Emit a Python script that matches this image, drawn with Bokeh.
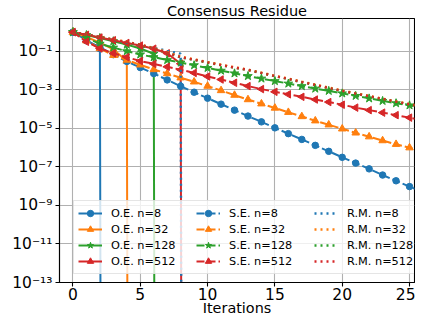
import numpy as np
from bokeh.plotting import figure
from bokeh.models import Range1d, FixedTicker, Legend, LegendItem
from bokeh.embed import file_html
from bokeh.resources import INLINE

# ---------------- data ----------------
iterations = list(range(27))

# O.E. : residue hits exact zero (0.0) after log2(n) steps
oe_n8 = [1.0, 0.398, 0.138, 0.0]
oe_n32 = [1.0, 0.562, 0.282, 0.126, 0.0316, 0.0]
oe_n128 = [1.0, 0.708, 0.501, 0.339, 0.224, 0.141, 0.0759, 0.0]
oe_n512 = [1.0, 0.724, 0.525, 0.380, 0.275, 0.200, 0.138, 0.0794, 0.0229, 0.0]

se_n8 = [1.0, 0.355, 0.166, 0.0676, 0.0302, 0.01445, 0.00708, 0.00331, 0.00155,
         7.59e-4, 3.72e-4, 1.82e-4, 8.91e-5, 4.37e-5, 2.19e-5, 1.07e-5, 5.37e-6,
         2.69e-6, 1.32e-6, 6.46e-7, 3.16e-7, 1.58e-7, 7.94e-8, 3.80e-8, 1.91e-8,
         9.55e-9, 4.90e-9]
se_n32 = [1.0, 0.355, 0.141, 0.0631, 0.0355, 0.0200, 0.0115, 0.00708, 0.00427,
          0.00263, 0.00158, 9.33e-4, 5.37e-4, 3.16e-4, 1.91e-4, 1.15e-4, 6.92e-5,
          4.17e-5, 2.51e-5, 1.55e-5, 9.55e-6, 5.89e-6, 3.72e-6, 2.34e-6, 1.51e-6,
          1.00e-6, 6.61e-7]
se_n128 = [1.0, 0.501, 0.251, 0.158, 0.102, 0.0692, 0.0501, 0.0355, 0.0263,
           0.0191, 0.0138, 0.0100, 0.00724, 0.00525, 0.00389, 0.00288, 0.00214,
           0.00158, 0.00117, 8.91e-4, 6.61e-4, 4.90e-4, 3.63e-4, 2.69e-4, 2.04e-4,
           1.58e-4, 1.23e-4]
se_n512 = [1.0, 0.316, 0.141, 0.0794, 0.0501, 0.0316, 0.0224, 0.0158, 0.0112,
           0.00759, 0.00501, 0.00347, 0.00234, 0.00158, 0.00110, 7.94e-4, 5.89e-4,
           4.37e-4, 3.16e-4, 2.34e-4, 1.70e-4, 1.20e-4, 8.91e-5, 6.61e-5, 4.90e-5,
           3.63e-5, 2.69e-5]

rm_n8 = [1.0, 0.759, 0.562, 0.398, 0.282, 0.209, 0.151, 0.107, 0.0759, 0.0]
rm_n32 = [1.0, 0.75, 0.56, 0.42, 0.31, 0.225, 0.15, 0.092, 0.054, 0.039, 0.028,
          0.0205, 0.015, 0.0113, 0.0079, 0.0054, 0.0039, 0.0027, 0.0019, 0.00132,
          9.3e-4, 6.7e-4, 4.9e-4, 3.5e-4, 2.55e-4, 1.85e-4, 1.36e-4]
rm_n128 = [1.0, 0.74, 0.545, 0.40, 0.295, 0.215, 0.14, 0.083, 0.049, 0.036, 0.026,
           0.019, 0.0141, 0.0107, 0.0074, 0.0051, 0.0036, 0.0025, 0.00177, 0.00123,
           8.7e-4, 6.3e-4, 4.6e-4, 3.3e-4, 2.4e-4, 1.74e-4, 1.29e-4]
rm_n512 = [1.0, 0.741, 0.550, 0.407, 0.302, 0.219, 0.141, 0.0851, 0.0501, 0.0372,
           0.0269, 0.0195, 0.0145, 0.0110, 0.00759, 0.00525, 0.00372, 0.00257,
           0.00182, 0.00126, 8.91e-4, 6.46e-4, 4.68e-4, 3.39e-4, 2.45e-4, 1.78e-4,
           1.32e-4]

sizes = ["n=8", "n=32", "n=128", "n=512"]
x_ticks = [0, 5, 10, 15, 20, 25]
y_ticks = [1e-13, 1e-11, 1e-9, 1e-7, 1e-5, 1e-3, 1e-1]
y_tick_labels = ["10\u207b\u00b9\u00b3", "10\u207b\u00b9\u00b9", "10\u207b\u2079",
                 "10\u207b\u2077", "10\u207b\u2075", "10\u207b\u00b3", "10\u207b\u00b9"]

# ---------------- styling ----------------
colors = ["#1f77b4", "#ff7f0e", "#2ca02c", "#d62728"]
markers = ["circle", "triangle", "star", "triangle"]
angles = [0.0, 0.0, 0.0, np.pi / 2]
msizes = [6.5, 7.5, 9, 7.5]
FONT = "DejaVu Sans"
FLOOR = 1e-300  # log axis: exact zero is drawn clipped far below the axis (as matplotlib does)


def clip(vals):
    return [v if v > 0 else FLOOR for v in vals]


p = figure(width=415, height=318, output_backend="svg", toolbar_location=None,
           y_axis_type="log", x_range=Range1d(-1, 25.37), y_range=Range1d(1e-13, 5.1),
           min_border_left=59, min_border_right=1, min_border_top=18, min_border_bottom=35)

p.title.text = "Consensus Residue"
p.title.align = "center"
p.title.text_font = FONT
p.title.text_font_size = "14.5px"
p.title.text_font_style = "normal"
p.title.text_color = "black"
p.title.standoff = 0

p.outline_line_color = "black"
p.outline_line_width = 1.1
p.background_fill_color = "white"
p.border_fill_color = "white"

p.xaxis.ticker = FixedTicker(ticks=x_ticks, minor_ticks=[])
p.yaxis.ticker = FixedTicker(ticks=y_ticks, minor_ticks=[])
p.yaxis.major_label_overrides = {t: l for t, l in zip(y_ticks, y_tick_labels)}
p.xaxis.axis_label = "Iterations"
for ax in (p.xaxis, p.yaxis):
    ax.axis_line_color = "black"
    ax.axis_line_width = 1.1
    ax.major_tick_line_color = "black"
    ax.major_tick_line_width = 1.1
    ax.major_tick_out = 4
    ax.major_tick_in = 0
    ax.minor_tick_out = 0
    ax.minor_tick_in = 0
    ax.major_label_text_font = FONT
    ax.major_label_text_font_size = "15.5px"
    ax.major_label_text_color = "black"
p.xaxis.major_label_standoff = 1
p.yaxis.major_label_standoff = 3
p.xaxis.axis_label_text_font = FONT
p.xaxis.axis_label_text_font_size = "14.4px"
p.xaxis.axis_label_text_font_style = "normal"
p.xaxis.axis_label_text_color = "black"
p.xaxis.axis_label_standoff = -3

p.grid.grid_line_color = "#b0b0b0"
p.grid.grid_line_width = 1.1

oe = [oe_n8, oe_n32, oe_n128, oe_n512]
se = [se_n8, se_n32, se_n128, se_n512]
rm = [rm_n8, rm_n32, rm_n128, rm_n512]

oe_items, se_items, rm_items = [], [], []
for i in range(4):
    xs = iterations[:len(oe[i])]
    yv = clip(oe[i])
    l = p.line(xs, yv, color=colors[i], line_width=2)
    s = p.scatter(xs, yv, marker=markers[i], angle=angles[i], size=msizes[i],
                  color=colors[i])
    oe_items.append(LegendItem(label="O.E. " + sizes[i], renderers=[l, s]))
for i in range(4):
    xs = iterations[:len(se[i])]
    yv = clip(se[i])
    l = p.line(xs, yv, color=colors[i], line_width=2, line_dash="8 3")
    s = p.scatter(xs, yv, marker=markers[i], angle=angles[i], size=msizes[i],
                  color=colors[i])
    se_items.append(LegendItem(label="S.E. " + sizes[i], renderers=[l, s]))
for i in range(4):
    xs = iterations[:len(rm[i])]
    yv = clip(rm[i])
    l = p.line(xs, yv, color=colors[i], line_width=2.4, line_dash="2 4")
    rm_items.append(LegendItem(label="R.M. " + sizes[i], renderers=[l]))

legend = Legend(items=oe_items + se_items + rm_items, ncols=3,
                location=(14, 8), orientation="vertical")
legend.label_text_font = FONT
legend.label_text_font_size = "11.3px"
legend.label_text_color = "black"
legend.label_height = 16
legend.glyph_height = 16
legend.glyph_width = 24
legend.label_standoff = 9
legend.label_width = 85
legend.spacing = 0
legend.padding = 4
legend.margin = 0
legend.border_line_color = "#cccccc"
legend.border_line_width = 1
legend.background_fill_alpha = 0.8
p.add_layout(legend, "center")

open("out.html", "w").write(file_html(p, INLINE))
